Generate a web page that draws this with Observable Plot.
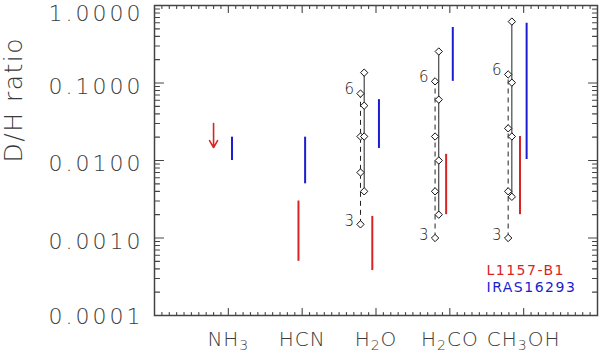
<!DOCTYPE html>
<html><head><meta charset="utf-8">
<script src="https://cdn.jsdelivr.net/npm/d3@7"></script>
<script src="https://cdn.jsdelivr.net/npm/@observablehq/plot@0.6"></script>
<style>
body{margin:0;background:#fff}
svg{display:block}
g[aria-label="y-axis tick label"]{letter-spacing:3px}
g[aria-label="x-axis tick label"]{letter-spacing:1px}
g[aria-label="text"]{letter-spacing:1.5px}
</style>
</head><body><div id="chart"></div>
<script>
// Categories (x positions 1..5)
const molecules = ["NH₃", "HCN", "H₂O", "H₂CO", "CH₃OH"];
const moleculePos = [1, 2, 3, 4, 5];
// y tick labels
const yMajor = [0.0001, 0.001, 0.01, 0.1, 1];

// IRAS16293 observed ranges (blue)
const irasX    = [1.05, 2.04, 3.04, 4.04, 5.04];
const irasLow  = [0.010, 0.005, 0.0143, 0.105, 0.0103];
const irasHigh = [0.020, 0.020, 0.061, 0.52, 0.59];

// L1157-B1 observed ranges (red)
const l1157X    = [1.95, 2.95, 3.95, 4.95];
const l1157Low  = [0.0005, 0.00038, 0.002, 0.002];
const l1157High = [0.003, 0.0019, 0.012, 0.0204];
// L1157-B1 NH3 upper limit (arrow)
const limitX = [0.8];
const limitFrom = [0.030];
const limitTo = [0.0147];

// Model predictions: solid set
const solidX = [2.84, 3.85, 4.84];
const solidH2O   = [0.136, 0.051, 0.0204, 0.004];
const solidH2CO  = [0.255, 0.061, 0.010, 0.002];
const solidCH3OH = [0.62, 0.101, 0.0204, 0.0034];
// Model predictions: dashed set
const dashedX = [2.79, 3.80, 4.79];
const dashedH2O   = [0.073, 0.0204, 0.007, 0.0015];
const dashedH2CO  = [0.105, 0.0204, 0.004, 0.001];
const dashedCH3OH = [0.129, 0.026, 0.004, 0.001];
const dashedEndLabels = ["6", "3"];

const legendNames = ["L1157-B1", "IRAS16293"];

const RED = "#d82424", BLUE = "#1c1cd0", AX = "#444";

const solidSets = [solidH2O, solidH2CO, solidCH3OH];
const dashedSets = [dashedH2O, dashedH2CO, dashedCH3OH];
const solidRanges = solidSets.map((v, i) => ({x: solidX[i], lo: d3.min(v), hi: d3.max(v)}));
const dashedRanges = dashedSets.map((v, i) => ({x: dashedX[i], lo: d3.min(v), hi: d3.max(v)}));
const solidPts = solidSets.flatMap((v, i) => v.map(y => ({x: solidX[i], y})));
const dashedPts = dashedSets.flatMap((v, i) => v.map(y => ({x: dashedX[i], y})));
const dashedTop = dashedSets.map((v, i) => ({x: dashedX[i], y: d3.max(v), t: dashedEndLabels[0]}));
const dashedBot = dashedSets.map((v, i) => ({x: dashedX[i], y: d3.min(v), t: dashedEndLabels[1]}));
const iras = irasX.map((x, i) => ({x, lo: irasLow[i], hi: irasHigh[i]}));
const l1157 = l1157X.map((x, i) => ({x, lo: l1157Low[i], hi: l1157High[i]}));
const limits = limitX.map((x, i) => ({x, from: limitFrom[i], to: limitTo[i]}));

const yMinor = yMajor.slice(0, -1).flatMap(d => d3.range(2, 10).map(k => k * d));
const xMajor = moleculePos;
const xMinor = d3.range(1, 60).map(k => k / 10).filter(d => Math.abs(d - Math.round(d)) > 1e-6);
const fmt = d3.format(".4f");

// inward tick: a straight vector segment
const tickShape = {draw(ctx, l) { ctx.moveTo(0, 0); ctx.lineTo(0, -l); }};
const yTicks = (vals, side, len) => Plot.vector(vals, {y: d => d, frameAnchor: side, length: len,
  rotate: side === "left" ? 90 : -90, anchor: "start", shape: tickShape, stroke: AX, strokeWidth: 1.1});
const xTicks = (vals, side, len) => Plot.vector(vals, {x: d => d, frameAnchor: side, length: len,
  rotate: side === "top" ? 180 : 0, anchor: "start", shape: tickShape, stroke: AX, strokeWidth: 1.1});

const plot = Plot.plot({
  width: 600, height: 354,
  marginLeft: 154, marginRight: 3, marginTop: 5, marginBottom: 39,
  x: {domain: [0, 6], axis: null},
  y: {type: "log", domain: [1e-4, 1], axis: null},
  style: {fontFamily: "'DejaVu Sans', sans-serif", color: "#3a3a3a", background: "#fff", fontWeight: 200},
  marks: [
    // tick labels
    Plot.axisY(yMajor.slice(1, 4), {anchor: "left", tickSize: 0, tickPadding: 11, dy: 3.5, tickFormat: fmt, fontSize: 22, label: null}),
    Plot.axisY(yMajor.slice(0, 1), {anchor: "left", tickSize: 0, tickPadding: 11, dy: 1.5, tickFormat: fmt, fontSize: 22, label: null}),
    Plot.axisY(yMajor.slice(4), {anchor: "left", tickSize: 0, tickPadding: 11, dy: 8.5, tickFormat: fmt, fontSize: 22, label: null}),
    Plot.axisX(moleculePos, {anchor: "bottom", tickSize: 0, tickPadding: 16, fontSize: 20, label: null,
      tickFormat: d => molecules[moleculePos.indexOf(d)]}),
    // inward ticks on all four sides
    yTicks(yMajor, "left", 9), yTicks(yMinor, "left", 5),
    yTicks(yMajor, "right", 9), yTicks(yMinor, "right", 5),
    xTicks(xMajor, "top", 7), xTicks(xMinor, "top", 3),
    xTicks(xMajor, "bottom", 7), xTicks(xMinor, "bottom", 3),
    Plot.frame({stroke: AX, strokeWidth: 1.5}),
    Plot.text(["D/H ratio"], {frameAnchor: "left", text: d => d, rotate: -90, dx: -141, dy: 2, fontSize: 25, fill: "#3a3a3a"}),
    // observations
    Plot.ruleX(iras, {x: "x", y1: "lo", y2: "hi", stroke: BLUE, strokeWidth: 2}),
    Plot.ruleX(l1157, {x: "x", y1: "lo", y2: "hi", stroke: RED, strokeWidth: 2}),
    Plot.arrow(limits, {x1: "x", x2: "x", y1: "from", y2: "to", stroke: RED, strokeWidth: 1.6, headLength: 9}),
    // models
    Plot.ruleX(dashedRanges, {x: "x", y1: "lo", y2: "hi", stroke: "#222", strokeWidth: 1, strokeDasharray: "5,4"}),
    Plot.ruleX(solidRanges, {x: "x", y1: "lo", y2: "hi", stroke: "#222", strokeWidth: 1}),
    Plot.dot(dashedPts, {x: "x", y: "y", symbol: "diamond2", r: 3.3, stroke: "#111", fill: "#fff", strokeWidth: 1}),
    Plot.dot(solidPts, {x: "x", y: "y", symbol: "diamond2", r: 3.3, stroke: "#111", fill: "#fff", strokeWidth: 1}),
    Plot.text(dashedTop, {x: "x", y: "y", text: "t", textAnchor: "end", dx: -5, dy: -4, fontSize: 15, fill: "#222"}),
    Plot.text(dashedBot, {x: "x", y: "y", text: "t", textAnchor: "end", dx: -5, dy: -3, fontSize: 15, fill: "#222"}),
    // legend
    Plot.text([legendNames[0]], {frameAnchor: "bottom-right", text: d => d, textAnchor: "start", dx: -111, dy: -41, fontSize: 14, fontWeight: "normal", fill: RED}),
    Plot.text([legendNames[1]], {frameAnchor: "bottom-right", text: d => d, textAnchor: "start", dx: -111, dy: -24, fontSize: 14, fontWeight: "normal", fill: BLUE})
  ]
});
document.getElementById("chart").append(plot);

// render subscript digits of the molecule labels as lowered tspans
const subMap = {"₀":"0","₁":"1","₂":"2","₃":"3","₄":"4","₅":"5","₆":"6","₇":"7","₈":"8","₉":"9"};
d3.select(plot).selectAll('g[aria-label="x-axis tick label"] text').each(function() {
  const s = this.textContent;
  if (!/[₀-₉]/.test(s)) return;
  const t = d3.select(this).text(null);
  let shifted = false;
  for (const part of s.match(/[₀-₉]+|[^₀-₉]+/g)) {
    if (/[₀-₉]/.test(part)) {
      t.append("tspan").attr("dy", 4).attr("font-size", 14).text([...part].map(c => subMap[c]).join(""));
      shifted = true;
    } else {
      const sp = t.append("tspan").text(part);
      if (shifted) { sp.attr("dy", -4); shifted = false; }
    }
  }
});
</script>
</body></html>
